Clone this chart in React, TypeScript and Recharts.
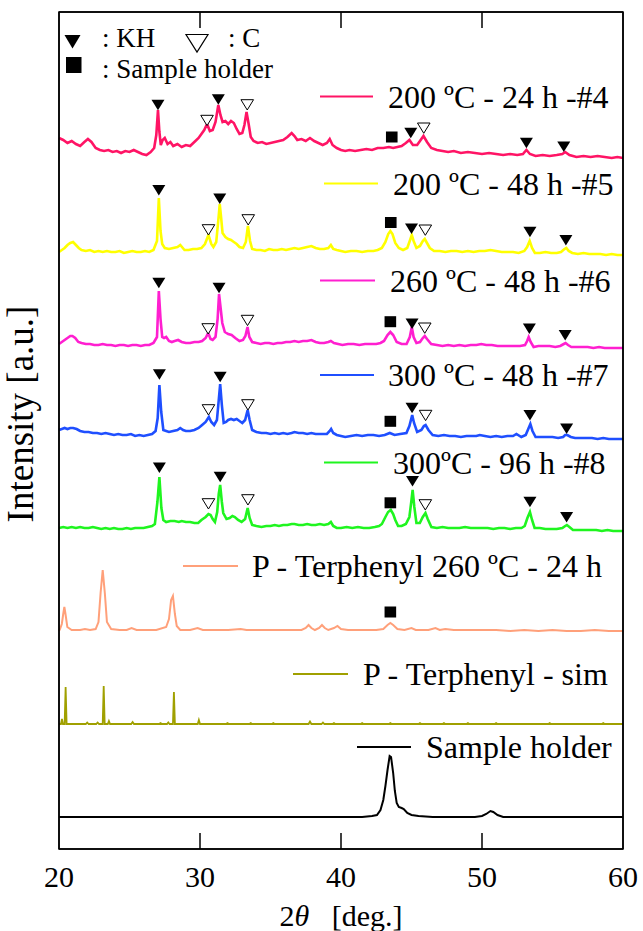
import React from "react";
import { ComposedChart, Line, Scatter, XAxis, YAxis } from "recharts";

const serif = '"Liberation Serif", Tinos, "Times New Roman", "DejaVu Serif", serif';

// 2θ axis
const xTicks = [20, 30, 40, 50, 60];
const innerTicks = [30, 40, 50];
const yDomain: [number, number] = [0, 837];

const seriesNames = [
  "200 ºC - 24 h -#4",
  "200 ºC - 48 h -#5",
  "260 ºC - 48 h -#6",
  "300 ºC - 48 h -#7",
  "300ºC - 96 h -#8",
  "P - Terphenyl 260 ºC - 24 h",
  "P - Terphenyl - sim",
  "Sample holder",
];
const seriesColors = ["#ff1465", "#ffff00", "#ff1fd0", "#1f4fff", "#1ff51f", "#ffa07a", "#a0a000", "#000000"];
const seriesWidths = [2.6, 2.6, 2.6, 2.6, 2.6, 2, 1.8, 2];
// vertical stacking offset of each pattern (a.u.)
const offsets = [691, 593, 500, 409, 317, 218, 125, 31];

// [2θ, intensity above own baseline]
const s4: [number, number][] = [
  [20.0, 20], [20.3, 18], [20.6, 15], [20.9, 17], [21.2, 14], [21.5, 12], [21.8, 16], [22.05, 19], [22.3, 16],
  [22.6, 10], [22.9, 8], [23.2, 7], [23.5, 8], [23.8, 6], [24.1, 7], [24.4, 5], [24.7, 7], [25.0, 6], [25.3, 8],
  [25.6, 6], [25.9, 4], [26.2, 3], [26.5, 6], [26.75, 10], [26.9, 23], [27.02, 48], [27.12, 26], [27.22, 13],
  [27.35, 18], [27.5, 20], [27.7, 14], [27.9, 16], [28.1, 12], [28.4, 14], [28.7, 11], [29.0, 13], [29.3, 12],
  [29.6, 16], [29.9, 20], [30.1, 24], [30.3, 28], [30.5, 34], [30.7, 27], [30.9, 28], [31.1, 36], [31.3, 53],
  [31.45, 43], [31.6, 36], [31.8, 37], [32.0, 34], [32.2, 37], [32.4, 35], [32.6, 29], [32.8, 24], [33.0, 25],
  [33.15, 33], [33.3, 46], [33.45, 34], [33.6, 21], [33.8, 17], [34.1, 15], [34.4, 16], [34.7, 14], [35.0, 15],
  [35.3, 16], [35.6, 17], [35.9, 18], [36.2, 21], [36.5, 25], [36.7, 22], [36.9, 18], [37.2, 19], [37.5, 17],
  [37.8, 20], [38.1, 17], [38.4, 15], [38.7, 13], [39.0, 15], [39.2, 19], [39.4, 13], [39.7, 10], [40.0, 8],
  [40.3, 7], [40.6, 8], [41.0, 7], [41.4, 8], [41.8, 9], [42.2, 8], [42.6, 10], [43.0, 10], [43.4, 11],
  [43.7, 10], [44.0, 11], [44.3, 12], [44.6, 15], [44.85, 18], [45.1, 13], [45.4, 13], [45.6, 17], [45.85, 22],
  [46.1, 16], [46.4, 10], [46.8, 8], [47.2, 7], [47.6, 6], [48.0, 7], [48.5, 5], [49.0, 6], [49.5, 5], [50.0, 4],
  [50.5, 5], [51.0, 4], [51.5, 3], [52.0, 4], [52.5, 3], [52.9, 4], [53.15, 8], [53.4, 4], [53.8, 2], [54.3, 3],
  [54.8, 2], [55.3, 3], [55.7, 4], [55.9, 6], [56.2, 3], [56.7, 1], [57.2, 2], [57.7, 1], [58.2, 2], [58.7, 1],
  [59.2, 0], [59.6, 1], [60.0, 0],
];

const s5: [number, number][] = [
  [20.0, 4], [20.2, 6], [20.4, 8], [20.6, 11], [20.8, 13], [21.0, 14], [21.2, 11], [21.4, 8], [21.6, 6], [21.9, 5],
  [22.2, 6], [22.5, 4], [22.8, 5], [23.1, 4], [23.4, 5], [23.7, 4], [24.0, 4], [24.3, 5], [24.6, 3], [24.9, 4],
  [25.2, 5], [25.5, 4], [25.8, 4], [26.1, 5], [26.4, 4], [26.7, 6], [26.95, 15], [27.08, 58], [27.2, 25],
  [27.32, 12], [27.5, 8], [27.8, 7], [28.1, 8], [28.4, 9], [28.6, 11], [28.9, 6], [29.2, 6], [29.5, 7], [29.8, 7],
  [30.1, 8], [30.35, 12], [30.6, 21], [30.8, 12], [30.95, 9], [31.15, 14], [31.3, 36], [31.4, 52], [31.5, 38],
  [31.6, 23], [31.8, 19], [32.0, 17], [32.2, 16], [32.4, 14], [32.6, 12], [32.8, 9], [33.05, 8], [33.25, 14],
  [33.4, 30], [33.55, 15], [33.7, 7], [34.0, 6], [34.3, 6], [34.6, 5], [34.9, 7], [35.2, 6], [35.5, 6], [35.8, 7],
  [36.1, 6], [36.4, 7], [36.7, 8], [37.0, 7], [37.3, 8], [37.6, 9], [37.9, 10], [38.2, 8], [38.5, 7], [38.8, 7],
  [39.1, 8], [39.28, 11], [39.45, 7], [39.7, 6], [40.0, 5], [40.3, 4], [40.7, 5], [41.1, 5], [41.5, 4], [41.9, 5],
  [42.3, 5], [42.6, 6], [42.9, 8], [43.15, 14], [43.35, 22], [43.5, 25], [43.65, 22], [43.85, 13], [44.1, 8],
  [44.4, 6], [44.7, 8], [44.9, 16], [45.02, 21], [45.15, 15], [45.35, 8], [45.6, 10], [45.8, 15], [45.94, 17],
  [46.1, 13], [46.3, 8], [46.6, 5], [47.0, 5], [47.4, 4], [47.8, 5], [48.2, 5], [48.6, 4], [49.0, 5], [49.4, 4],
  [49.8, 5], [50.2, 5], [50.6, 6], [51.0, 5], [51.4, 4], [51.8, 4], [52.2, 4], [52.6, 3], [53.0, 5], [53.2, 9],
  [53.38, 15], [53.55, 8], [53.75, 3], [54.1, 3], [54.5, 4], [54.9, 3], [55.3, 3], [55.6, 4], [55.85, 7],
  [55.98, 8], [56.15, 5], [56.4, 3], [56.8, 2], [57.2, 3], [57.6, 2], [58.0, 2], [58.4, 2], [58.8, 1], [59.2, 2],
  [59.6, 1], [60.0, 1],
];

const s6: [number, number][] = [
  [20.0, 5], [20.2, 7], [20.4, 9], [20.6, 11], [20.8, 13], [20.95, 13], [21.15, 11], [21.37, 7], [21.6, 6],
  [21.9, 5], [22.2, 5], [22.5, 4], [22.8, 4], [23.1, 5], [23.4, 4], [23.7, 4], [24.0, 3], [24.3, 4], [24.6, 4],
  [24.9, 3], [25.2, 4], [25.5, 4], [25.8, 3], [26.1, 4], [26.4, 4], [26.7, 6], [26.95, 12], [27.08, 58],
  [27.2, 30], [27.32, 12], [27.45, 11], [27.6, 12], [27.8, 8], [28.0, 7], [28.2, 8], [28.45, 9], [28.7, 7],
  [29.0, 6], [29.3, 6], [29.6, 7], [29.9, 7], [30.15, 8], [30.4, 11], [30.58, 16], [30.75, 10], [30.9, 9],
  [31.1, 12], [31.25, 30], [31.35, 55], [31.47, 40], [31.58, 26], [31.76, 17], [32.0, 15], [32.24, 14],
  [32.5, 11], [32.8, 8], [33.05, 9], [33.22, 13], [33.37, 22], [33.5, 12], [33.7, 7], [34.0, 6], [34.3, 5],
  [34.6, 6], [34.9, 6], [35.2, 5], [35.5, 6], [35.8, 6], [36.1, 7], [36.4, 7], [36.7, 8], [37.0, 7], [37.3, 8],
  [37.6, 8], [37.9, 9], [38.2, 7], [38.5, 6], [38.8, 6], [39.1, 7], [39.28, 8], [39.5, 6], [39.8, 5], [40.1, 4],
  [40.5, 5], [40.9, 5], [41.3, 4], [41.7, 5], [42.1, 5], [42.5, 5], [42.8, 6], [43.05, 8], [43.3, 14], [43.5, 17],
  [43.7, 14], [43.95, 7], [44.3, 5], [44.65, 5], [44.88, 12], [45.02, 22], [45.15, 12], [45.35, 6], [45.6, 7],
  [45.8, 11], [45.94, 13], [46.1, 10], [46.4, 5], [46.8, 4], [47.2, 3], [47.6, 4], [48.0, 3], [48.4, 4], [48.8, 3],
  [49.2, 4], [49.6, 4], [49.95, 5], [50.3, 4], [50.7, 4], [51.1, 3], [51.5, 3], [51.9, 3], [52.3, 3], [52.7, 3],
  [53.05, 4], [53.2, 8], [53.31, 12], [53.45, 7], [53.66, 2], [54.0, 3], [54.4, 3], [54.8, 3], [55.2, 2],
  [55.55, 3], [55.8, 5], [55.93, 6], [56.1, 4], [56.34, 2], [56.7, 2], [57.1, 2], [57.5, 2], [57.9, 1], [58.3, 2],
  [58.7, 1], [59.1, 1], [59.5, 1], [60.0, 1],
];

const s7: [number, number][] = [
  [20.0, 10], [20.2, 11], [20.4, 12], [20.6, 11], [20.8, 12], [21.0, 12], [21.25, 11], [21.5, 9], [21.8, 8],
  [22.1, 8], [22.4, 7], [22.7, 7], [23.0, 6], [23.3, 7], [23.6, 6], [23.9, 5], [24.2, 6], [24.5, 5], [24.8, 5],
  [25.1, 6], [25.4, 4], [25.7, 5], [26.0, 4], [26.3, 5], [26.6, 6], [26.85, 9], [27.0, 22], [27.12, 55],
  [27.25, 28], [27.4, 10], [27.6, 9], [27.8, 8], [28.1, 9], [28.4, 10], [28.6, 12], [28.8, 10], [29.0, 9],
  [29.3, 9], [29.6, 10], [29.9, 12], [30.15, 15], [30.4, 18], [30.63, 23], [30.8, 18], [31.0, 15], [31.2, 20],
  [31.33, 40], [31.43, 56], [31.55, 35], [31.68, 17], [31.85, 18], [32.0, 20], [32.2, 21], [32.4, 20], [32.6, 21],
  [32.8, 19], [33.0, 17], [33.2, 20], [33.38, 30], [33.52, 20], [33.7, 10], [34.0, 8], [34.36, 7], [34.7, 7],
  [35.0, 6], [35.3, 7], [35.6, 6], [35.9, 7], [36.2, 6], [36.5, 7], [36.7, 8], [37.0, 7], [37.3, 7], [37.6, 6],
  [37.9, 7], [38.2, 6], [38.6, 6], [39.0, 6], [39.2, 9], [39.3, 11], [39.45, 7], [39.7, 5], [40.0, 4], [40.3, 3],
  [40.7, 4], [41.1, 5], [41.5, 4], [41.9, 5], [42.3, 5], [42.7, 4], [43.1, 5], [43.46, 7], [43.8, 5], [44.2, 6],
  [44.64, 7], [44.85, 14], [45.05, 25], [45.18, 17], [45.4, 8], [45.7, 10], [45.88, 14], [46.0, 15], [46.2, 10],
  [46.5, 5], [46.9, 4], [47.3, 5], [47.7, 4], [48.1, 4], [48.5, 3], [48.9, 4], [49.3, 4], [49.6, 4], [49.84, 5],
  [50.2, 4], [50.6, 3], [51.0, 4], [51.4, 3], [51.8, 4], [52.2, 4], [52.44, 6], [52.79, 3], [53.1, 5],
  [53.28, 11], [53.43, 16], [53.58, 9], [53.8, 3], [54.2, 3], [54.6, 3], [55.0, 3], [55.4, 2], [55.75, 3],
  [55.9, 5], [56.05, 5], [56.3, 3], [56.6, 2], [57.0, 2], [57.4, 2], [57.8, 2], [58.2, 1], [58.6, 2], [59.0, 1],
  [59.5, 1], [60.0, 1],
];

const s8: [number, number][] = [
  [20.0, 4], [20.3, 5], [20.6, 4], [20.9, 5], [21.2, 4], [21.5, 5], [21.8, 4], [22.1, 4], [22.4, 5], [22.7, 4],
  [23.0, 3], [23.3, 4], [23.6, 3], [23.9, 4], [24.2, 3], [24.5, 3], [24.8, 4], [25.1, 3], [25.4, 4], [25.7, 4],
  [26.0, 4], [26.3, 5], [26.6, 6], [26.8, 8], [26.98, 30], [27.12, 55], [27.26, 24], [27.4, 12], [27.6, 10],
  [27.9, 11], [28.2, 11], [28.5, 10], [28.7, 11], [29.0, 10], [29.3, 10], [29.6, 9], [29.87, 9], [30.1, 12],
  [30.4, 15], [30.6, 18], [30.75, 17], [30.9, 13], [31.06, 10], [31.22, 20], [31.33, 38], [31.43, 47],
  [31.55, 30], [31.65, 19], [31.88, 13], [32.1, 14], [32.3, 16], [32.47, 15], [32.7, 12], [32.95, 10], [33.2, 13],
  [33.38, 24], [33.52, 14], [33.7, 7], [34.0, 6], [34.36, 5], [34.7, 6], [35.0, 6], [35.3, 7], [35.6, 6],
  [35.9, 7], [36.2, 7], [36.5, 8], [36.7, 8], [37.0, 7], [37.3, 7], [37.6, 8], [37.9, 7], [38.2, 7], [38.5, 8],
  [38.8, 7], [39.1, 8], [39.28, 10], [39.45, 6], [39.7, 4], [40.0, 4], [40.4, 5], [40.8, 4], [41.2, 5], [41.6, 4],
  [42.0, 4], [42.4, 5], [42.7, 6], [42.9, 8], [43.15, 15], [43.34, 20], [43.53, 22], [43.7, 18], [43.85, 12],
  [44.05, 6], [44.3, 6], [44.6, 8], [44.85, 15], [45.0, 32], [45.08, 42], [45.2, 25], [45.35, 9], [45.59, 9],
  [45.8, 15], [45.99, 19], [46.15, 13], [46.41, 5], [46.8, 4], [47.2, 5], [47.6, 4], [48.0, 4], [48.4, 4],
  [48.8, 5], [49.2, 4], [49.6, 4], [50.0, 4], [50.4, 4], [50.8, 3], [51.2, 4], [51.6, 4], [52.0, 3], [52.4, 4],
  [52.8, 4], [53.03, 6], [53.22, 14], [53.4, 20], [53.55, 12], [53.73, 4], [54.1, 4], [54.5, 3], [54.9, 3],
  [55.3, 3], [55.7, 4], [55.9, 6], [56.02, 7], [56.2, 5], [56.45, 2], [56.9, 2], [57.3, 2], [57.7, 2], [58.1, 2],
  [58.5, 1], [58.9, 2], [59.3, 1], [59.7, 1], [60.0, 1],
];

const terphenyl260: [number, number][] = [
  [20.0, 0], [20.07, 2], [20.2, 7], [20.3, 17], [20.38, 24], [20.46, 17], [20.59, 4], [20.9, 1], [21.5, 1],
  [21.84, 2], [22.2, 1], [22.6, 2], [22.8, 9], [22.95, 38], [23.1, 61], [23.25, 38], [23.4, 9], [23.7, 2],
  [24.3, 1], [24.8, 1], [25.15, 3], [25.5, 1], [26.3, 1], [26.9, 1], [27.6, 4], [27.8, 12], [27.95, 31],
  [28.08, 35], [28.22, 17], [28.35, 5], [28.6, 1], [29.3, 1], [29.83, 3], [30.2, 1], [31.0, 1], [32.0, 1],
  [32.88, 2], [33.3, 1], [34.3, 1], [35.3, 1], [36.3, 1], [37.2, 1], [37.5, 3], [37.7, 6], [37.9, 3], [38.15, 1],
  [38.45, 3], [38.65, 6], [38.85, 3], [39.1, 1], [39.5, 3], [39.75, 5], [40.0, 2], [40.5, 1], [41.5, 1],
  [42.5, 1], [43.0, 2], [43.3, 6], [43.5, 8], [43.7, 6], [44.0, 2], [44.5, 1], [45.0, 3], [45.3, 1], [46.2, 1],
  [46.7, 3], [47.0, 1], [47.4, 2], [48.0, 1], [49.0, 1], [50.0, 1], [51.0, 1], [52.0, 0], [53.0, 1], [54.0, 0],
  [55.0, 1], [56.0, 0], [57.0, 0], [58.0, 1], [59.0, 0], [60.0, 0],
];

const terphenylSim: [number, number][] = [
  [20.0, 0], [20.14, 0], [20.21, 5], [20.28, 0], [20.4, 0], [20.47, 37], [20.54, 0], [21.9, 0], [22.0, 1.5],
  [22.1, 0], [22.64, 0], [22.74, 1.5], [22.84, 0], [23.1, 0], [23.17, 38], [23.24, 0], [23.46, 0], [23.54, 3],
  [23.62, 0], [25.12, 0], [25.22, 2], [25.32, 0], [27.1, 0], [27.2, 1], [27.3, 0], [27.66, 0], [27.75, 1.5],
  [27.84, 0], [28.08, 0], [28.15, 32], [28.22, 0], [29.84, 0], [29.92, 4], [30.0, 0], [31.85, 0], [31.95, 1],
  [32.05, 0], [33.5, 0], [33.6, 1], [33.7, 0], [35.1, 0], [35.2, 1], [35.3, 0], [37.7, 0], [37.8, 2.5],
  [37.9, 0], [38.62, 0], [38.72, 1.5], [38.82, 0], [39.4, 0], [39.5, 1], [39.6, 0], [41.4, 0], [41.5, 1],
  [41.6, 0], [43.4, 0], [43.5, 1], [43.6, 0], [45.5, 0], [45.6, 1], [45.7, 0], [47.2, 0], [47.3, 1], [47.4, 0],
  [48.9, 0], [49.0, 1], [49.1, 0], [50.9, 0], [51.0, 1], [51.1, 0], [54.7, 0], [54.8, 1], [54.9, 0], [58.5, 0],
  [58.6, 1], [58.7, 0], [60.0, 0],
];

const holder: [number, number][] = [
  [20.0, 1], [22.0, 1], [25.0, 1], [30.0, 1], [35.0, 1], [38.0, 1], [40.0, 1], [41.5, 1], [42.2, 2], [42.55, 3],
  [42.8, 8], [43.0, 18], [43.15, 32], [43.3, 48], [43.45, 62], [43.55, 61], [43.7, 45], [43.82, 27], [43.95, 15],
  [44.1, 11], [44.3, 10], [44.45, 9], [44.7, 5], [45.0, 3], [45.5, 2], [46.5, 1], [48.0, 1], [49.5, 1], [50.0, 2],
  [50.3, 4], [50.6, 7], [50.8, 6], [51.1, 3], [51.5, 1], [53.0, 1], [55.0, 1], [57.0, 1], [60.0, 1],
];

const patterns = [s4, s5, s6, s7, s8, terphenyl260, terphenylSim, holder];

// phase marks: [pattern index, 2θ, height above baseline]
const khMarks: [number, number, number][] = [
  [0, 27.02, 53], [0, 31.3, 58.5], [0, 44.95, 25], [0, 53.15, 15], [0, 55.8, 11.3],
  [1, 27.08, 65.7], [1, 31.4, 57.3], [1, 45.0, 27.3], [1, 53.4, 24], [1, 55.95, 15.7],
  [2, 27.08, 66], [2, 31.35, 61], [2, 45.04, 25.3], [2, 53.36, 20.3], [2, 55.9, 13.7],
  [3, 27.12, 65.5], [3, 31.43, 63], [3, 45.04, 32], [3, 53.4, 24.7], [3, 56.0, 11.3],
  [4, 27.12, 64.2], [4, 31.43, 55], [4, 45.07, 50.8], [4, 53.4, 30], [4, 56.0, 14.8],
];
const cMarks: [number, number, number][] = [
  [0, 30.5, 37.7], [0, 33.35, 53.3], [0, 45.87, 30],
  [1, 30.6, 26.3], [1, 33.42, 36.3], [1, 45.98, 26],
  [2, 30.58, 20.3], [2, 33.37, 28.7], [2, 45.94, 21],
  [3, 30.6, 30.3], [3, 33.4, 35.3], [3, 46.0, 24.7],
  [4, 30.6, 28.3], [4, 33.4, 32.3], [4, 45.98, 27.3],
];
const holderMarks: [number, number, number][] = [
  [0, 43.6, 21], [1, 43.53, 33.5], [2, 43.5, 27.3], [3, 43.5, 18.7], [4, 43.5, 29.2], [5, 43.5, 19],
];

const lineData = patterns.map((pts, i) => pts.map(([x, v]) => ({ x, y: v + offsets[i] })));
const markData = (m: [number, number, number][]) => m.map(([i, x, h]) => ({ x, y: offsets[i] + h }));
const bottomTicks = innerTicks.map((x) => ({ x, y: yDomain[0] }));
const topTicks = innerTicks.map((x) => ({ x, y: yDomain[1] }));

// legend placement (px)
const legendPos = [
  { x1: 320, x2: 373, y: 96.5, tx: 388 },
  { x1: 324, x2: 378, y: 183.5, tx: 393 },
  { x1: 320, x2: 375, y: 280.5, tx: 390 },
  { x1: 320, x2: 374, y: 375, tx: 388 },
  { x1: 324, x2: 378, y: 462.5, tx: 393 },
  { x1: 183, x2: 238, y: 566, tx: 252 },
  { x1: 293, x2: 348, y: 674, tx: 363 },
  { x1: 357, x2: 411, y: 747, tx: 426 },
];

const KH = (p: any) => (
  <polygon points={`${p.cx - 6.5},${p.cy - 5.3} ${p.cx + 6.5},${p.cy - 5.3} ${p.cx},${p.cy + 5.3}`} fill="#000" />
);
const C = (p: any) => (
  <polygon
    points={`${p.cx - 6.3},${p.cy - 5} ${p.cx + 6.3},${p.cy - 5} ${p.cx},${p.cy + 5.3}`}
    fill="#fff"
    stroke="#000"
    strokeWidth={1}
  />
);
const Sq = (p: any) => <rect x={p.cx - 5.8} y={p.cy - 5.5} width={11.6} height={11} fill="#000" />;
const TickUp = (p: any) => <line x1={p.cx} x2={p.cx} y1={p.cy} y2={p.cy - 16} stroke="#000" strokeWidth={1.5} />;
const TickDown = (p: any) => <line x1={p.cx} x2={p.cx} y1={p.cy} y2={p.cy + 16} stroke="#000" strokeWidth={1.5} />;

const frame = { stroke: "#000", strokeWidth: 1.5 };
const txt = { fontFamily: serif };

export default function App() {
  return (
    <div style={{ position: "absolute", left: 0, top: 0, width: 643, height: 931, background: "#fff", fontFamily: serif }}>
      <ComposedChart width={643} height={931} margin={{ top: 11, right: 19, bottom: 0, left: 58 }} style={txt}>
        <XAxis
          dataKey="x"
          type="number"
          domain={[20, 60]}
          ticks={xTicks}
          tickLine={false}
          axisLine={frame}
          tick={{ fontSize: 30, fontFamily: serif, fill: "#000", style: txt }}
          tickMargin={11}
          height={82}
          interval={0}
        />
        <XAxis xAxisId="top" orientation="top" type="number" domain={[20, 60]} tick={false} tickLine={false} axisLine={frame} height={1} />
        <YAxis dataKey="y" type="number" domain={yDomain} tick={false} tickLine={false} axisLine={frame} width={1} />
        <YAxis yAxisId="right" orientation="right" type="number" domain={yDomain} tick={false} tickLine={false} axisLine={frame} width={1} />
        {lineData.map((d, i) => (
          <Line
            key={seriesNames[i]}
            data={d}
            dataKey="y"
            type="linear"
            stroke={seriesColors[i]}
            strokeWidth={seriesWidths[i]}
            dot={false}
            isAnimationActive={false}
          />
        ))}
        <Scatter data={markData(khMarks)} dataKey="y" shape={KH} isAnimationActive={false} />
        <Scatter data={markData(cMarks)} dataKey="y" shape={C} isAnimationActive={false} />
        <Scatter data={markData(holderMarks)} dataKey="y" shape={Sq} isAnimationActive={false} />
        <Scatter data={bottomTicks} dataKey="y" shape={TickUp} isAnimationActive={false} />
        <Scatter data={topTicks} dataKey="y" shape={TickDown} isAnimationActive={false} />
      </ComposedChart>
      <svg width={643} height={931} style={{ position: "absolute", left: 0, top: 0, pointerEvents: "none" }}>
        <rect x={59} y={12} width={564} height={837} fill="none" stroke="#000" strokeWidth={1.5} />
        <g fill="#000" style={txt}>
          <polygon points="64.5,35 80.5,35 72.5,48.5" fill="#000" />
          <text x={102} y={47} fontSize={27} style={txt}>: KH</text>
          <polygon points="186,34.5 208,34.5 197,52" fill="none" stroke="#000" strokeWidth={1.2} />
          <text x={228} y={47} fontSize={27} style={txt}>: C</text>
          <rect x={66} y={57} width={15.5} height={16} fill="#000" />
          <text x={102} y={77.5} fontSize={27} style={txt}>: Sample holder</text>
          {legendPos.map((p, i) => (
            <g key={i}>
              <line x1={p.x1} x2={p.x2} y1={p.y} y2={p.y} stroke={seriesColors[i]} strokeWidth={2} />
              <text x={p.tx} y={p.y + 11} fontSize={32} style={txt}>{seriesNames[i]}</text>
            </g>
          ))}
          <text transform="rotate(-90)" x={-414} y={33} fontSize={37} textAnchor="middle" style={txt}>
            Intensity [a.u.]
          </text>
          <text x={341} y={926} fontSize={30} textAnchor="middle" style={txt}>
            2<tspan fontStyle="italic">θ</tspan>{"\u2002 "}[deg.]
          </text>
        </g>
      </svg>
    </div>
  );
}
